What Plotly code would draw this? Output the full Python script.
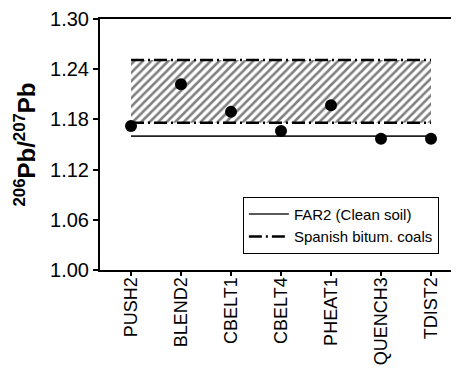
import plotly.graph_objects as go

categories = ["PUSH2", "BLEND2", "CBELT1", "CBELT4", "PHEAT1", "QUENCH3", "TDIST2"]
ratios = [1.172, 1.222, 1.189, 1.166, 1.197, 1.157, 1.157]
far2_value = 1.160
coal_low = 1.176
coal_high = 1.251
y_ticks = [1.00, 1.06, 1.12, 1.18, 1.24, 1.30]

fig = go.Figure()

# hatched band for Spanish bituminous coals
fig.add_trace(go.Scatter(
    x=[categories[0], categories[-1], categories[-1], categories[0], categories[0]],
    y=[coal_high, coal_high, coal_low, coal_low, coal_high],
    fill="toself", mode="none",
    fillcolor="white",
    fillpattern=dict(shape="/", fgcolor="black", bgcolor="white", size=6, solidity=0.42),
    showlegend=False, hoverinfo="skip"))

dashdot = "13px,4px,2px,4px"
fig.add_trace(go.Scatter(
    x=[categories[0], categories[-1]], y=[far2_value, far2_value],
    mode="lines", line=dict(color="#222", width=1.6),
    name="FAR2 (Clean soil)"))
fig.add_trace(go.Scatter(
    x=[categories[0], categories[-1]], y=[coal_high, coal_high],
    mode="lines", line=dict(color="black", width=2.5, dash=dashdot),
    name="Spanish bitum. coals", legendgroup="coal"))
fig.add_trace(go.Scatter(
    x=[categories[0], categories[-1]], y=[coal_low, coal_low],
    mode="lines", line=dict(color="black", width=2.5, dash=dashdot),
    showlegend=False, legendgroup="coal"))

fig.add_trace(go.Scatter(
    x=categories, y=ratios, mode="markers",
    marker=dict(color="black", size=12), showlegend=False))

font_family = "Liberation Sans, Arial, sans-serif"
fig.update_layout(
    width=451, height=362,
    margin=dict(l=92, r=0, t=11, b=100),
    paper_bgcolor="white", plot_bgcolor="white",
    font=dict(family=font_family, color="black"),
    legend=dict(
        x=0.398, y=0.292, xanchor="left", yanchor="top",
        bordercolor="black", borderwidth=1, bgcolor="white",
        font=dict(size=15, family=font_family),
        tracegroupgap=0, itemwidth=40,
    ),
)
fig.update_xaxes(
    type="category", categoryorder="array", categoryarray=categories,
    range=[-0.62, 6.56], automargin=False,
    showline=True, linecolor="black", linewidth=2, mirror=True,
    ticks="outside", ticklen=4, tickwidth=1.5, tickcolor="black",
    tickangle=-90, tickfont=dict(size=18), ticklabelstandoff=-6,
    showgrid=False, zeroline=False,
)
fig.update_yaxes(
    range=[1.00, 1.30], tickvals=y_ticks, tickformat=".2f", automargin=False,
    showline=True, linecolor="black", linewidth=2,
    ticks="outside", ticklen=5, tickwidth=2, tickcolor="black",
    tickfont=dict(size=20), showgrid=False, zeroline=False,
    title=dict(text="<b><sup>206</sup>Pb/<sup>207</sup>Pb</b>",
               font=dict(size=24), standoff=8),
)

fig.write_html("out.html")
